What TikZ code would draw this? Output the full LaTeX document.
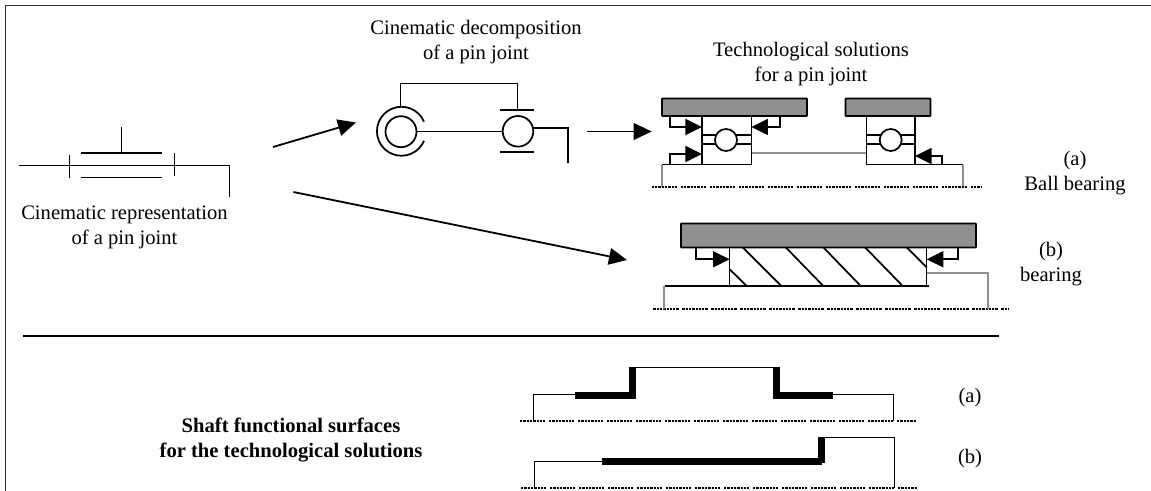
\documentclass[tikz,border=0pt]{standalone}
\usepackage{fontspec}
\setmainfont{Liberation Serif}
\usetikzlibrary{arrows.meta}
\definecolor{rgrey}{HTML}{909090}
\definecolor{rframe}{HTML}{303030}
\tikzset{
  x=0.75pt,y=-0.75pt,
  label/.style={inner sep=0pt,align=center,font=\fontsize{15.45}{18.75}\selectfont},
  blabel/.style={label,font=\fontsize{15.45}{18.75}\selectfont\bfseries},
  ln/.style={black,line width=1.3pt},
  thin line/.style={black,line width=1.05pt},
  thick surf/.style={black,line width=4.9pt},
  grey line/.style={rgrey,line width=1.25pt},
  housing/.style={draw=black,fill=rgrey,line width=1.3pt,rounded corners=0.4pt},
  race/.style={draw=black,fill=white,line width=1.3pt},
  axisdot/.style={black,line width=1.7pt,dash pattern=on 1.725pt off .75pt on 1.725pt off .75pt on 1.725pt off .75pt on 1.725pt off .75pt on 1.725pt off .75pt on 1.725pt off .75pt on 1.725pt off .75pt on 1.725pt off 2.7pt},
  bigarrow/.style={black,line width=1.35pt,-{Triangle[length=13.5pt,width=12.5pt]}},
  contact/.style={black,line width=1.3pt,-{Triangle[length=12.5pt,width=12pt]}},
}
\begin{document}
\begin{tikzpicture}
\useasboundingbox[fill=white] (0,0) rectangle (1151,491);
% frame
\draw[rframe,line width=1.2pt] (5.5,491) -- (5.5,5.5) -- (1151,5.5);
% texts
\node[label] (t1) at (124.5,227) {Cinematic representation\\of a pin joint};
\node[label] (t2) at (476,42) {Cinematic decomposition\\of a pin joint};
\node[label] (t3) at (811,64.5) {Technological solutions\\for a pin joint};
\node[label] (t4) at (1075,173) {(a)\\Ball bearing};
\node[label] (t5) at (1051,264) {(b)\\bearing};
\node[blabel] (t6) at (291,440) {Shaft functional surfaces\\for the technological solutions};
\node[label] (t7) at (970,398) {(a)};
\node[label] (t8) at (970,459) {(b)};
% cinematic representation
\draw[ln] (19,165.5) -- (229.5,165.5) -- (229.5,197);
\draw[ln] (69.5,155.5) -- (69.5,178.5);
\draw[ln] (174.5,153.5) -- (174.5,176);
\draw[ln] (80.5,153) -- (161.5,153);
\draw[ln] (80.5,177.5) -- (161.5,177.5);
\draw[ln] (121.5,127) -- (121.5,153);
% main arrows
\coordinate (a1s) at (273,147);
\coordinate (a1e) at (356,122.5);
\coordinate (a2s) at (293.4,192);
\coordinate (a2e) at (627,260);
\coordinate (a3s) at (587,131.5);
\coordinate (a3e) at (651.7,131.5);
\draw[bigarrow] (a1s) -- (a1e);
\draw[bigarrow] (a2s) -- (a2e);
\draw[bigarrow] (a3s) -- (a3e);
% cinematic decomposition
\draw[ln] (400.5,108) -- (400.5,83.5) -- (517.5,83.5) -- (517.5,110);
\draw[ln] (424,121.7) arc[start angle=-23,end angle=-337,radius=24.5];
\draw[ln] (401,131.7) circle[radius=15.5];
\draw[ln] (416.5,131.5) -- (502.7,131.5);
\draw[ln] (518,131.3) circle[radius=15.3];
\draw[ln] (500,110) -- (534,110);
\draw[ln] (500,152) -- (534,152);
\draw[ln] (533.3,128) -- (568,128) -- (568,163);
% ball bearing solution
\draw[ln] (662,164.5) -- (751.5,164.5);
\draw[ln] (866.5,164.5) -- (963.3,164.5);
\draw[grey line] (662,164.7) -- (662,187);
\draw[grey line] (963.3,164.7) -- (963.3,187);
\draw[grey line] (751.3,153) -- (866.3,153);
\draw[axisdot] (651.7,187) -- (981,187);
\draw[race] (702,116) rectangle (751.5,164.5);
\draw[race] (866.5,116) rectangle (915,164.5);
\draw[ln] (702,135) -- (751.5,135);
\draw[ln] (702,144) -- (751.5,144);
\draw[ln] (866.5,135) -- (915,135);
\draw[ln] (866.5,144) -- (915,144);
\draw[race] (726,140) circle[radius=11];
\draw[race] (890.7,140) circle[radius=11];
\draw[housing] (662,98.5) rectangle (807,116);
\draw[housing] (845.5,98.5) rectangle (930.5,116);
\draw[contact] (670,116) -- (670,127) -- (702,127);
\draw[contact] (670,164.7) -- (670,154) -- (702,154);
\draw[contact] (780,116) -- (780,127) -- (751.3,127);
\draw[contact] (941.7,165.5) -- (941.7,156) -- (915,156);
% plain bearing solution
\draw[axisdot] (653.3,309) -- (1008.3,309);
\draw[grey line] (664,286) -- (664,309);
\draw[grey line] (926.7,272.7) -- (988,272.7) -- (988,309);
\draw[race] (729.5,247.5) rectangle (926.5,286);
\draw[ln] (742.7,247.3) -- (781.3,286);
\draw[ln] (785.7,247.3) -- (823.3,286);
\draw[ln] (823.3,247.3) -- (860.7,286);
\draw[ln] (865,247.3) -- (902.7,286);
\draw[ln] (906.7,247.3) -- (926.7,267.3);
\draw[ln] (729.7,269.3) -- (746.7,286);
\draw[ln] (665,286) -- (929,286);
\draw[housing] (681,223.5) rectangle (976,247.5);
\draw[contact] (695.7,247.3) -- (695.7,259.3) -- (729.7,259.3);
\draw[contact] (958,247.3) -- (958,259.3) -- (926.7,259.3);
% divider
\draw[black,line width=1.5pt] (23,336) -- (999,336);
% shaft surfaces (a)
\draw[axisdot] (520,421.3) -- (916,421.3);
\draw[thin line] (533.5,421.3) -- (533.5,394.5) -- (575,394.5);
\draw[thin line] (635.7,367.5) -- (773,367.5);
\draw[thin line] (833,394.5) -- (893.5,394.5) -- (893.5,421.3);
\draw[thick surf] (575,395.4) -- (635.7,395.4);
\draw[thick surf] (632.5,367.2) -- (632.5,398.7);
\draw[thick surf] (776.5,367.2) -- (776.5,398.7);
\draw[thick surf] (773,395.4) -- (833,395.4);
% shaft surfaces (b)
\draw[axisdot] (521,487.7) -- (917,487.7);
\draw[thin line] (534.5,487.7) -- (534.5,461.5) -- (601.7,461.5);
\draw[thin line] (825,437.5) -- (894.5,437.5) -- (894.5,487.7);
\draw[thick surf] (601.7,461.3) -- (822,461.3);
\draw[thick surf] (821.6,436.7) -- (821.6,463);
\end{tikzpicture}
\end{document}
